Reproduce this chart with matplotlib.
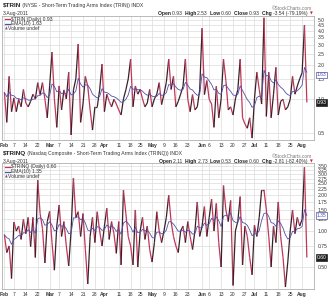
import matplotlib
matplotlib.use('Agg')
import matplotlib.pyplot as plt
from matplotlib.collections import LineCollection
import numpy as np
import pandas as pd

plt.rcParams['font.family'] = ['Liberation Sans', 'DejaVu Sans']

"""
Data read off the chart (daily values, 1 Feb 2011 - 3 Aug 2011, trading days)
"""
trin = [1.14, 0.62, 1.58, 0.77, 1.02, 0.77, 0.99, 0.85, 1.21, 0.92,
        0.85, 0.95, 1.10, 1.00, 1.39, 1.09, 1.39, 1.00, 0.68, 1.30,
        2.59, 1.00, 0.56, 1.30, 0.80, 1.20, 1.00, 1.72, 0.48, 1.20,
        1.50, 3.05, 0.62, 0.90, 1.58, 1.30, 0.80, 0.53, 0.85, 0.85,
        1.20, 2.03, 0.77, 1.10, 0.95, 0.85, 0.99, 0.90, 0.80, 0.72,
        1.00, 1.20, 1.50, 2.24, 0.85, 1.30, 1.10, 1.21, 1.00, 0.85,
        0.92, 1.21, 0.85, 1.00, 1.10, 1.39, 0.89, 1.10, 1.40, 2.24,
        1.21, 1.58, 0.85, 0.95, 1.10, 1.29, 2.24, 0.99, 0.77, 1.09,
        0.80, 0.85, 1.20, 4.20, 1.09, 1.45, 0.99, 0.90, 0.56, 1.29,
        0.68, 1.00, 2.24, 1.45, 0.80, 0.85, 0.72, 1.00, 1.20, 2.24,
        0.68, 0.60, 0.55, 0.68, 0.45, 1.00, 1.72, 1.21, 0.90, 5.20,
        0.70, 1.72, 0.68, 1.10, 1.90, 0.72, 0.95, 0.99, 0.80, 0.85,
        0.99, 1.58, 1.10, 1.30, 1.50, 1.70, 4.47, 0.93]

trinq = [0.93, 0.66, 0.75, 0.40, 1.19, 1.00, 1.10, 0.85, 1.25, 0.95,
         1.30, 0.74, 1.30, 0.60, 2.67, 1.40, 1.05, 0.54, 1.20, 1.46,
         0.80, 0.47, 1.10, 1.65, 0.90, 1.20, 0.75, 0.51, 1.00, 2.77,
         1.30, 1.45, 0.90, 1.40, 0.70, 0.36, 0.90, 1.30, 0.80, 1.45,
         1.00, 0.75, 1.10, 1.55, 0.85, 1.20, 0.95, 0.65, 1.20, 0.52,
         2.20, 1.40, 0.90, 0.75, 0.52, 1.50, 0.50, 1.00, 1.30, 0.85,
         1.10, 0.70, 0.55, 0.80, 1.45, 1.00, 0.80, 1.00, 1.30, 1.99,
         1.20, 0.90, 0.75, 0.66, 1.00, 1.10, 0.80, 1.20, 0.90, 0.70,
         1.00, 1.75, 0.90, 1.10, 1.60, 0.90, 1.30, 1.85, 1.00, 1.70,
         0.80, 0.50, 2.40, 1.50, 1.20, 1.80, 0.35, 1.00, 1.20, 1.94,
         0.52, 1.10, 0.90, 0.60, 0.43, 1.12, 0.90, 1.30, 2.20, 2.20,
         1.50, 0.90, 0.50, 1.10, 0.80, 1.75, 0.90, 0.60, 0.34, 0.55,
         1.00, 1.50, 0.95, 1.30, 1.10, 1.25, 3.41, 0.60]

# x tick positions (trading-day index) and labels
tick_idx = [0, 4, 9, 14, 19, 23, 28, 33, 38, 42, 48, 53, 57, 62, 67, 72, 77,
            83, 86, 91, 96, 101, 105, 110, 115, 120, 125]
tick_lbl = ['Feb', '7', '14', '22', 'Mar', '7', '14', '21', '28', 'Apr', '11', '18', '25',
            'May', '9', '16', '23', 'Jun', '6', '13', '20', '27', 'Jul', '11', '18', '25', 'Aug']
months = ['Feb', 'Mar', 'Apr', 'May', 'Jun', 'Jul', 'Aug']

trin_ticks = [0.5, 1.0, 1.5, 2.0, 2.5, 3.0, 3.5, 4.0, 4.5, 5.0]
trinq_ticks = [0.5, 0.75, 1.0, 1.25, 1.5, 1.75, 2.0, 2.25, 2.5, 2.75, 3.0, 3.25, 3.5]

trin_info = ['0.93', '2.53', '0.60', '0.93', '-3.54 (-79.19%)']
trinq_info = ['2.11', '2.73', '0.53', '0.60', '-2.81 (-82.40%)']
trin_ema_last = 1.63
trinq_ema_last = 1.35

"""
Style
"""
c_up = '#3a2129'
c_dn = '#c2365a'
c_ema = '#5050a8'
c_grid = '#dcdcdc'
fs = 3.6
W, H = 329, 300

fig = plt.figure(figsize=(W / 100, H / 100), dpi=100)
fig.patch.set_facecolor('white')
renderer = fig.canvas.get_renderer()


def px(x, y):
    return x / W, 1 - y / H


def seq_text(x, y, parts, align='left'):
    # draw pieces of text one after another, measuring each
    texts = []
    xx = x
    for s, kw in parts:
        t = fig.text(*px(xx, y), s, va='center', ha='left', **kw)
        bb = t.get_window_extent(renderer)
        xx += bb.width
        texts.append(t)
    if align == 'right':
        shift = xx - x
        for t in texts:
            tx, ty = t.get_position()
            t.set_position((tx - shift / W, ty))


def panel(rect, vals, ticks, ylim, fmt, name, full, info, ema_last, ytop):
    ax = fig.add_axes(rect)
    x = np.arange(len(vals))
    v = np.array(vals)
    ema = pd.Series(v).ewm(span=10, adjust=False).mean().values

    ax.set_yscale('log')
    ax.set_ylim(*ylim)
    ax.set_xlim(-1, 130)

    # grid
    for t in tick_idx:
        ax.axvline(t, color=c_grid, lw=0.5, zorder=0)
    for t in ticks:
        ax.axhline(t, color=c_grid, lw=0.5, zorder=0)

    # colored price line: dark on up days, red on down days
    segs = [[(x[i], v[i]), (x[i + 1], v[i + 1])] for i in range(len(v) - 1)]
    cols = [c_up if v[i + 1] >= v[i] else c_dn for i in range(len(v) - 1)]
    ax.add_collection(LineCollection(segs, colors=cols, linewidths=0.9, zorder=3))
    ax.plot(x, ema, color=c_ema, lw=0.6, zorder=4)

    ax.yaxis.tick_right()
    ax.set_yticks(ticks)
    ax.set_yticklabels([fmt % t for t in ticks])
    ax.yaxis.set_minor_locator(matplotlib.ticker.NullLocator())
    ax.tick_params(axis='y', length=0, labelsize=fs, pad=2.5, colors='#333333')
    ax.set_xticks(tick_idx)
    ax.set_xticklabels(tick_lbl)
    ax.tick_params(axis='x', length=0, labelsize=fs, pad=2.5, colors='#333333')
    for lbl in ax.get_xticklabels():
        if lbl.get_text() in months:
            lbl.set_fontweight('bold')
    for sp in ax.spines.values():
        sp.set_color('#a0a0a0')
        sp.set_linewidth(0.5)

    # value boxes on the right axis (they cover the nearby tick labels, as in the original)
    yt = ax.get_yaxis_transform()
    ax.text(1.008, ema_last, '%.2f' % ema_last, transform=yt, fontsize=fs, color=c_ema,
            va='center', ha='left', zorder=10, clip_on=False,
            bbox=dict(boxstyle='square,pad=0.12', fc='white', ec=c_ema, lw=0.5))
    ax.text(1.008, v[-1], '%.2f' % v[-1], transform=yt, fontsize=fs, color='white',
            va='center', ha='left', zorder=10, clip_on=False,
            bbox=dict(boxstyle='square,pad=0.12', fc='#202020', ec='#202020', lw=0.5))

    # legend inside the box
    lx0, lx1 = 3 / W / rect[2], 8 / W / rect[2]
    rows = [(c_dn, '%s (Daily) %.2f' % (name, v[-1])), (c_ema, 'EMA(10) %.2f' % ema_last)]
    for k, (c, s) in enumerate(rows):
        yy = 1 - (3.5 + 5 * k) / (rect[3] * H)
        ax.plot([lx0, lx1], [yy, yy], color=c, lw=0.9, transform=ax.transAxes, clip_on=False, zorder=6)
        ax.text(lx1 + 0.004, yy, s, transform=ax.transAxes, fontsize=fs, va='center', color='#333333', zorder=6)
    yy = 1 - 13.5 / (rect[3] * H)
    ax.text(lx0, yy, '\u25b2', transform=ax.transAxes, fontsize=2.6, va='center', color='#666666', zorder=6,
            family='DejaVu Sans')
    ax.text(lx1 - 0.005, yy, 'Volume undef', transform=ax.transAxes, fontsize=fs, va='center', color='#333333', zorder=6)

    # header
    seq_text(3, ytop, [(name, dict(fontsize=4.6, fontweight='bold', color='#222222')),
                       (' (%s) INDX' % full, dict(fontsize=fs, color='#333333'))])
    fig.text(*px(312, ytop + 3), '\u00a9StockCharts.com', fontsize=3.4, color='#777777', ha='right', va='center')
    fig.text(*px(3, ytop + 8), '3-Aug-2011', fontsize=fs, color='#333333', ha='left', va='center')
    lab = dict(fontsize=fs, fontweight='bold', color='#222222')
    val = dict(fontsize=fs, color='#333333')
    parts = []
    for n, s in zip(['Open', 'High', 'Low', 'Close', 'Chg'], info):
        parts.append((n + ' ', lab))
        parts.append((s + '  ', val))
    parts.append(('\u25bc', dict(fontsize=2.6, color='#cc2233', family='DejaVu Sans')))
    seq_text(313, ytop + 8.5, parts, align='right')
    return ax


l, r = 2 / W, 314 / W
ax1 = panel([l, 1 - 140 / H, r - l, (140 - 15.5) / H], trin, trin_ticks, (0.433, 5.45), '%.1f',
            '$TRIN', 'NYSE - Short-Term Trading Arms Index (TRIN)', trin_info, trin_ema_last, 5)
ax2 = panel([l, 1 - 289 / H, r - l, (289 - 163) / H], trinq, trinq_ticks, (0.327, 3.71), '%.2f',
            '$TRINQ', 'Nasdaq Composite - Short-Term Trading Arms Index (TRINQ)', trinq_info, trinq_ema_last, 153)

fig.savefig('out.png', dpi=100, facecolor='white')
